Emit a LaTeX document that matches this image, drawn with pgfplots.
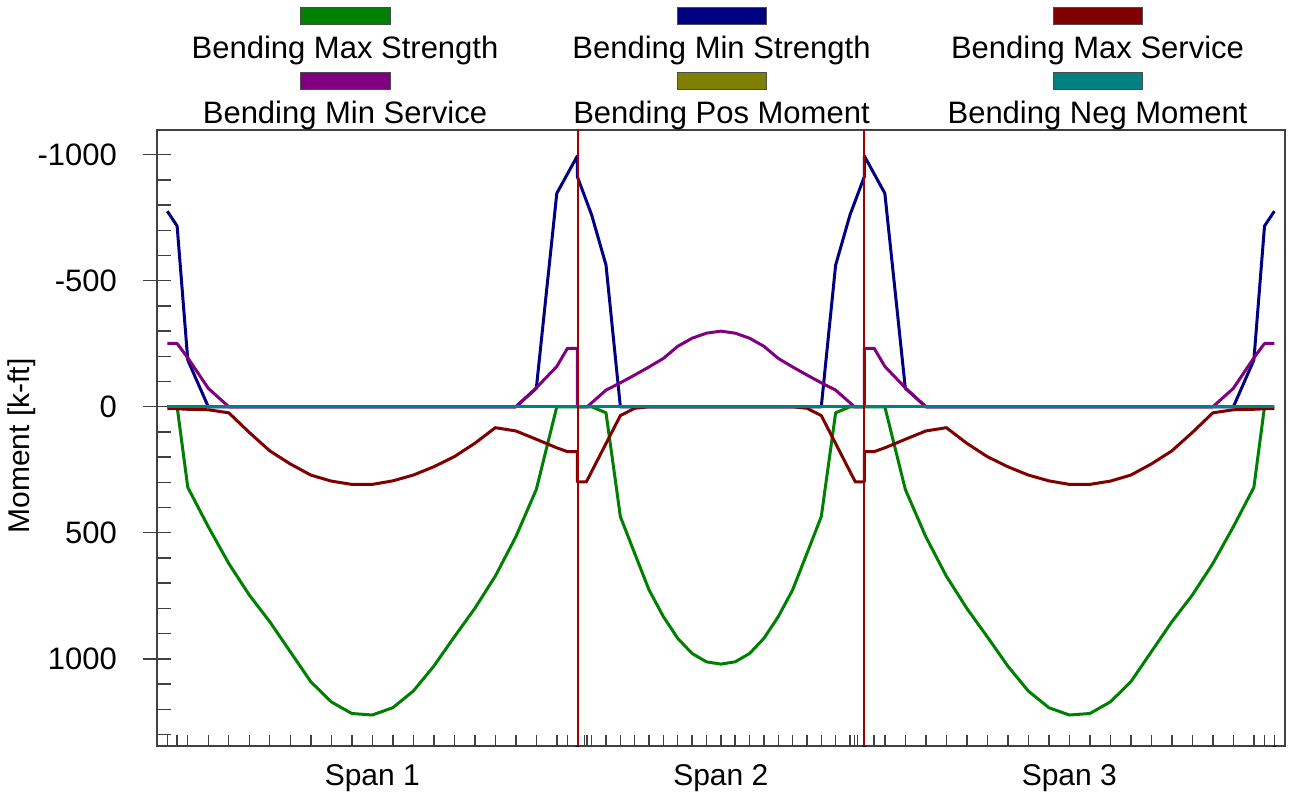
\documentclass[border=0pt]{standalone}
\usepackage{fontspec}
\setmainfont{Liberation Sans}
\usepackage{pgfplots}
\pgfplotsset{compat=1.18}
\usetikzlibrary{calc}
\definecolor{cGreen}{RGB}{0,128,0}
\definecolor{cNavy}{RGB}{0,0,128}
\definecolor{cMaroon}{RGB}{128,0,0}
\definecolor{cPurple}{RGB}{128,0,128}
\definecolor{cOlive}{RGB}{128,128,0}
\definecolor{cTeal}{RGB}{0,128,128}
\definecolor{cSupport}{RGB}{165,0,0}
\definecolor{axgray}{RGB}{64,64,64}
\begin{document}
\begin{tikzpicture}[font=\fontsize{15}{18}\selectfont]
\begin{axis}[name=ax, scale only axis, width=564pt, height=308pt,
  xmin=-2.51, xmax=272.6, ymin=-1098, ymax=1346, y dir=reverse,
  axis line style={axgray, line width=1pt},
  tick align=inside, xtick pos=left, ytick pos=left,
  major tick length=5.5pt, minor tick length=7pt,
  every tick/.style={black!75, line width=0.7pt},
  xtick={0,2.4,5,10,15,20,25,30,35,40,45,50,55,60,65,70,75,80,85,90,95,97.6,100,
         101.7,102.4,103.5,107,110.5,114,117.5,121,124.5,128,131.5,135,138.5,142,145.5,149,152.5,156,159.5,163,166.5,167.6,168.3,170,
         172.4,175,180,185,190,195,200,205,210,215,220,225,230,235,240,245,250,255,260,265,267.6,270},
  xticklabels={},
  extra x ticks={50,135,220},
  extra x tick labels={Span 1,Span 2,Span 3},
  extra x tick style={major tick length=0pt},
  xticklabel style={anchor=north, yshift=-5.5pt},
  ytick={-1000,-500,0,500,1000},
  yticklabels={-1000,-500,0,500,1000},
  minor ytick={-900,-800,-700,-600,-400,-300,-200,-100,100,200,300,400,600,700,800,900,1100,1200,1300},
  extra y ticks={-1000,-500,0,500,1000},
  extra y tick labels={},
  extra y tick style={tick align=center, major tick length=14pt},
  yticklabel style={xshift=-16.5pt, font=\fontsize{15.5}{18}\selectfont},
  ylabel={Moment [k-ft]},
  ylabel style={at={(axis description cs:-0.1197,0.487)}, anchor=center},
  every axis plot/.append style={line width=1.5pt, line join=round},
]
% Bending Max Strength
\addplot[cGreen] coordinates {
 (0,0) (2.4,0) (5,320) (10,476) (15,622) (20,747) (25,853) (30,972) (35,1091) (40,1171)
 (45,1217) (50,1223) (55,1194) (60,1128) (65,1029) (70,913) (75,800) (80,672) (85,516)
 (90,328) (95,0) (97.6,0) (100,0)
 (102.4,0) (103.5,0) (107,24) (110.5,436) (114,582) (117.5,727) (121,833) (124.5,919)
 (128,979) (131.5,1012) (135,1021) (138.5,1012) (142,979) (145.5,919) (149,833) (152.5,727)
 (156,582) (159.5,436) (163,24) (166.5,0) (167.6,0) (170,0)
 (172.4,0) (175,0) (180,328) (185,516) (190,672) (195,800) (200,913) (205,1029) (210,1128)
 (215,1194) (220,1223) (225,1217) (230,1171) (235,1091) (240,972) (245,853) (250,747)
 (255,622) (260,476) (265,320) (267.6,0) (270,0)};
% Bending Min Strength
\addplot[cNavy] coordinates {
 (0,-776) (2.4,-717) (5,-185) (10,0) (15,0) (85,0) (90,-73) (95,-847) (100,-995)
 (100,-913) (103.5,-761) (107,-562) (110.5,0) (159.5,0) (163,-562) (166.5,-761) (170,-913)
 (170,-995) (175,-847) (180,-73) (185,0) (260,0) (265,-185) (267.6,-717) (270,-776)};
% Bending Max Service
\addplot[cMaroon] coordinates {
 (0,7) (2.4,8) (5,10) (10,12) (15,24) (20,102) (25,175) (30,227) (35,271) (40,295)
 (45,308) (50,308) (55,294) (60,271) (65,238) (70,198) (75,145) (80,83) (85,96) (90,129)
 (95,163) (97.6,178) (100,178) (100,298) (102.2,298) (110.5,35) (114,6) (117.5,0)
 (152.5,0) (156,6) (159.5,35) (167.8,298) (170,298) (170,178) (172.4,178) (175,163)
 (180,129) (185,96) (190,83) (195,145) (200,198) (205,238) (210,271) (215,294) (220,308)
 (225,308) (230,295) (235,271) (240,227) (245,175) (250,102) (255,24) (260,12) (265,10)
 (267.6,8) (270,7)};
% Bending Min Service
\addplot[cPurple] coordinates {
 (0,-251) (2.4,-251) (5,-194) (10,-73) (15,0) (85,0) (90,-75) (95,-160) (97.6,-232)
 (100,-232) (100,0) (102.4,0) (107,-66) (110.5,-95) (114,-126) (117.5,-158) (121,-192)
 (124.5,-240) (128,-272) (131.5,-292) (135,-300) (138.5,-292) (142,-272) (145.5,-240)
 (149,-192) (152.5,-158) (156,-126) (159.5,-95) (163,-66) (167.6,0) (170,0) (170,-232)
 (172.4,-232) (175,-160) (180,-75) (185,0) (255,0) (260,-73) (265,-194) (267.6,-251) (270,-251)};
% Bending Pos Moment
\addplot[cOlive] coordinates {(0,0) (270,0)};
% Bending Neg Moment
\addplot[cTeal] coordinates {(0,0) (270,0)};
% supports
\addplot[cSupport, line width=1pt] coordinates {(100.05,-1098) (100.05,1346)};
\addplot[cSupport, line width=1pt] coordinates {(170,-1098) (170,1346)};
% bold ticks at supports and end
\draw[black, line width=1.6pt] (axis cs:100,1346) -- ++(0,5.5pt);
\draw[black, line width=1.6pt] (axis cs:170,1346) -- ++(0,5.5pt);
\draw[black, line width=1.6pt] (axis cs:270,1346) -- ++(0,5.5pt);
\end{axis}
\begin{scope}[shift={($(ax.north west)+(-78.5pt,65pt)$)}, x=0.5pt, y=-0.5pt, font=\fontsize{15.5}{18}\selectfont]
 \tikzset{sw/.style={draw=black!70, line width=0.5pt}}
 \filldraw[sw, fill=cGreen]  (300,8) rectangle (390,25);
 \filldraw[sw, fill=cNavy]   (677,8) rectangle (766,25);
 \filldraw[sw, fill=cMaroon] (1053,8) rectangle (1142,25);
 \filldraw[sw, fill=cPurple] (300,73) rectangle (390,90);
 \filldraw[sw, fill=cOlive]  (677,73) rectangle (766,90);
 \filldraw[sw, fill=cTeal]   (1053,73) rectangle (1142,90);
 \node[anchor=base, inner sep=0pt] at (345,59) {Bending Max Strength};
 \node[anchor=base, inner sep=0pt] at (721.5,59) {Bending Min Strength};
 \node[anchor=base, inner sep=0pt] at (1097.5,59) {Bending Max Service};
 \node[anchor=base, inner sep=0pt] at (345,124) {Bending Min Service};
 \node[anchor=base, inner sep=0pt] at (721.5,124) {Bending Pos Moment};
 \node[anchor=base, inner sep=0pt] at (1097.5,124) {Bending Neg Moment};
 \pgfresetboundingbox
 \path (0,0) rectangle (1293,799);
\end{scope}
\end{tikzpicture}
\end{document}
